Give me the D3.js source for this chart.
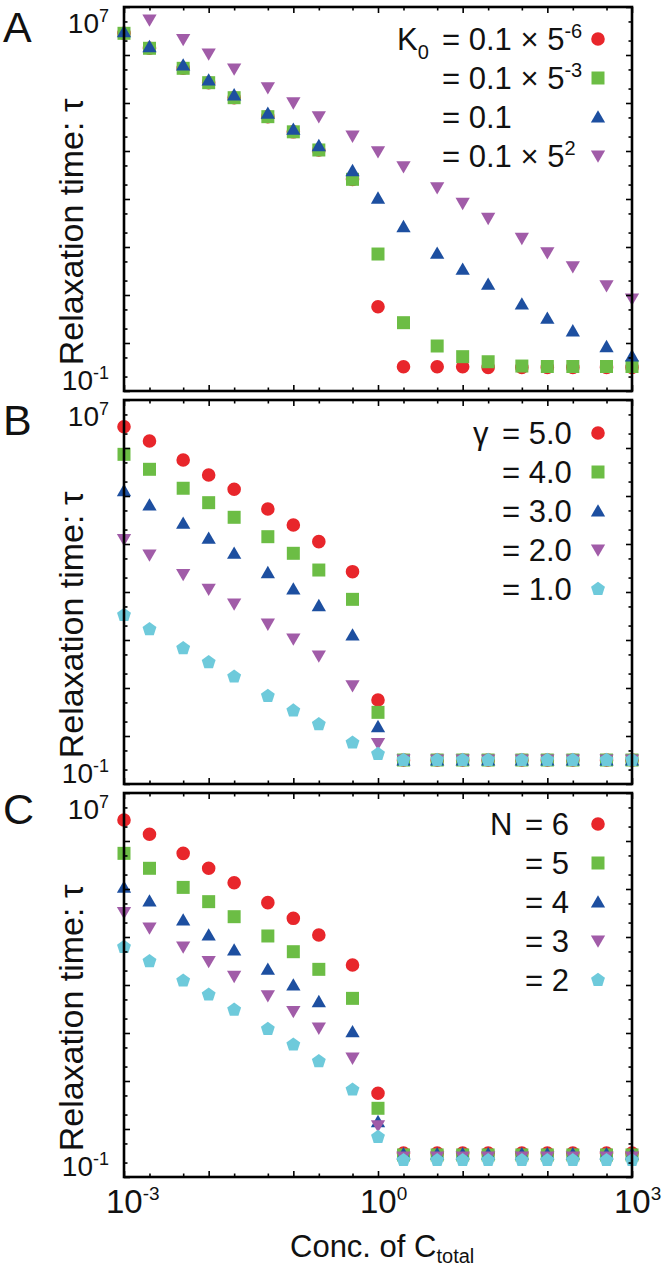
<!DOCTYPE html>
<html><head><meta charset="utf-8">
<script src="https://cdn.jsdelivr.net/npm/d3@7"></script>
<style>
body{margin:0;background:#fff}
text{font-family:"Liberation Sans",Arial,Helvetica,sans-serif;fill:#111}
</style>
</head><body>
<svg id="chart" width="663" height="1268"></svg>
<script>
// ---------------- DATA ----------------
const concentrations = [0.001,0.002,0.005,0.01,0.02,0.05,0.1,0.2,0.5,1,2,5,10,20,50,100,200,500,1000];

// Panel A: K0 series
const tauA_K0_5m6 = [2.83e6,1.38e6,5.28e5,2.65e5,1.29e5,5.19e4,2.51e4,1.05e4,2.57e3,5.70,0.32,0.32,0.32,0.31,0.31,0.31,0.31,0.31,0.31];
const tauA_K0_5m3 = [2.83e6,1.38e6,5.28e5,2.65e5,1.29e5,5.19e4,2.51e4,1.05e4,2.57e3,71.4,2.65,0.866,0.519,0.407,0.331,0.324,0.324,0.324,0.324];
const tauA_K0_1   = [3.05e6,1.49e6,6.19e5,3.01e5,1.47e5,6.10e4,2.83e4,1.29e4,3.89e3,1.04e3,265,74.0,34.3,16.7,6.49,3.27,1.78,0.838,0.537];
const tauA_K0_5p2 = [null,5.36e6,2.12e6,1.05e6,5.11e5,2.08e5,1.01e5,5.19e4,2.05e4,9.68e3,4.71e3,1.72e3,813,396,152,76.0,38.9,15.6,8.26];

// Panel B: gamma series
const tauB_g5 = [2.78e6,1.40e6,5.62e5,2.74e5,1.38e5,5.36e4,2.49e4,1.12e4,2.65e3,5.62,0.316,0.316,0.316,0.316,0.316,0.316,0.316,0.316,0.316];
const tauB_g4 = [7.38e5,3.60e5,1.45e5,7.26e4,3.60e4,1.42e4,6.40e3,2.87e3,703,3.11,0.316,0.316,0.316,0.316,0.316,0.316,0.316,0.316,0.316];
const tauB_g3 = [1.29e5,6.49e4,2.70e4,1.31e4,6.40e3,2.52e3,1.15e3,519,127,1.56,0.316,0.316,0.316,0.316,0.316,0.316,0.316,0.316,0.316];
const tauB_g2 = [1.25e4,5.90e3,2.33e3,1.15e3,562,215,105,46.5,11.2,0.703,0.316,0.316,0.316,0.316,0.316,0.316,0.316,0.316,0.316];
const tauB_g1 = [332,167,67.1,34.3,17.2,6.81,3.37,1.75,0.726,0.422,0.316,0.316,0.316,0.316,0.316,0.316,0.316,0.316,0.316];

// Panel C: N series
const tauC_N6 = [2.74e6,1.38e6,5.53e5,2.70e5,1.35e5,5.19e4,2.45e4,1.10e4,2.61e3,5.55,0.316,0.316,0.316,0.316,0.316,0.316,0.316,0.316,0.316];
const tauC_N5 = [5.53e5,2.70e5,1.08e5,5.45e4,2.65e4,1.05e4,4.94e3,2.12e3,527,2.70,0.288,0.288,0.288,0.288,0.288,0.288,0.288,0.288,0.288];
const tauC_N4 = [1.08e5,5.62e4,2.26e4,1.10e4,5.36e3,2.12e3,1.00e3,449,106,1.42,0.302,0.302,0.302,0.302,0.302,0.302,0.302,0.302,0.302];
const tauC_N3 = [3.24e4,1.54e4,6.19e3,3.11e3,1.52e3,598,282,127,30.1,1.17,0.263,0.263,0.263,0.263,0.263,0.263,0.263,0.263,0.263];
const tauC_N2 = [6.19e3,3.11e3,1.23e3,628,305,121,57.0,25.7,6.59,0.681,0.224,0.224,0.224,0.224,0.224,0.224,0.224,0.224,0.224];

const legendA = [["K","0","= 0.1 × 5","-6"],["","","= 0.1 × 5","-3"],["","","= 0.1",""],["","","= 0.1 × 5","2"]];
const legendB = [["γ","","= 5.0",""],["","","= 4.0",""],["","","= 3.0",""],["","","= 2.0",""],["","","= 1.0",""]];
const legendC = [["N","","= 6",""],["","","= 5",""],["","","= 4",""],["","","= 3",""],["","","= 2",""]];

const yTickLabels = [["10","7"],["10","-1"]];
const xTickLabels = [["10","-3"],["10","0"],["10","3"]];
const panelLetters = ["A","B","C"];
const yTitle = "Relaxation time: τ";
const xTitle = ["Conc. of C","total"];

// ---------------- LAYOUT ----------------
const colors = ["#e8262b","#6cbd45","#1d4fa0","#a15ca8","#6ecadb"];
const left = 124, right = 632, ph = 384;
const tops = [7, 400, 793];
const svg = d3.select("#chart");

function poly(pts){return {draw(ctx,size){const r=Math.sqrt(size);pts.forEach(([a,b],i)=>i?ctx.lineTo(a*r,b*r):ctx.moveTo(a*r,b*r));ctx.closePath();}};}
const triUp = poly([[0,-0.98],[1.02,0.78],[-1.02,0.78]]);
const triDown = poly([[0,0.98],[1.02,-0.78],[-1.02,-0.78]]);
const pent = poly(d3.range(5).map(k=>{const a=-Math.PI/2+k*2*Math.PI/5;return [Math.cos(a),Math.sin(a)];}));
const square = poly([[-1,-1],[1,-1],[1,1],[-1,1]]);
const shapeDefs = [
  d3.symbol().type(d3.symbolCircle).size(Math.PI*6.8*6.8),
  d3.symbol().type(square).size(6.5*6.5),
  d3.symbol().type(triUp).size(7*7),
  d3.symbol().type(triDown).size(7*7),
  d3.symbol().type(pent).size(7.3*7.3)
];

const x = d3.scaleLog().domain([1e-3,1e3]).range([left,right]);
const majorX = [1e-3,1e-2,1e-1,1,10,100,1000];
const minorX = []; majorX.slice(0,-1).forEach(d=>{minorX.push(d*2,d*5);});
const majorY = d3.range(-1,8).map(e=>Math.pow(10,e));
const minorY = []; majorY.slice(0,-1).forEach(d=>{minorY.push(d*2,d*5);});

const panels = [
  {series:[tauA_K0_5m6,tauA_K0_5m3,tauA_K0_1,tauA_K0_5p2], shapes:[0,1,2,3], legend:legendA, preX:397, eqX:442, legTop:32, letterY:42},
  {series:[tauB_g5,tauB_g4,tauB_g3,tauB_g2,tauB_g1], shapes:[0,1,2,3,4], legend:legendB, preX:473, eqX:502, legTop:33, letterY:435},
  {series:[tauC_N6,tauC_N5,tauC_N4,tauC_N3,tauC_N2], shapes:[0,1,2,3,4], legend:legendC, preX:490, eqX:525, legTop:31, letterY:824}
];

panels.forEach((p,pi)=>{
  const top = tops[pi];
  const y = d3.scaleLog().domain([1e-1,1e7]).range([top+ph, top]);
  const g = svg.append("g");

  // points
  p.series.forEach((vals,si)=>{
    const pts = concentrations.map((c,i)=>({c,v:vals[i]})).filter(d=>d.v!=null);
    g.append("g").selectAll("path").data(pts).join("path")
      .attr("d", shapeDefs[p.shapes[si]])
      .attr("transform", d=>`translate(${x(d.c)},${y(d.v)})`)
      .attr("fill", colors[si]);
  });

  // ticks
  const addAxis = (axisFn, scale, vals, size, tx, ty) => {
    const ax = g.append("g").attr("transform",`translate(${tx},${ty})`)
      .call(axisFn(scale).tickValues(vals).tickSize(size).tickFormat(""));
    ax.select(".domain").remove();
    ax.selectAll("line").attr("stroke","#000").attr("stroke-width",1.6);
  };
  addAxis(d3.axisBottom, x, majorX, -6, 0, top+ph);
  addAxis(d3.axisBottom, x, minorX, -3.5, 0, top+ph);
  addAxis(d3.axisTop, x, majorX, -6, 0, top);
  addAxis(d3.axisTop, x, minorX, -3.5, 0, top);
  addAxis(d3.axisLeft, y, majorY, -6, left, 0);
  addAxis(d3.axisLeft, y, minorY, -3.5, left, 0);
  addAxis(d3.axisRight, y, majorY, -6, right, 0);
  addAxis(d3.axisRight, y, minorY, -3.5, right, 0);

  // frame
  g.append("rect").attr("x",left).attr("y",top).attr("width",right-left).attr("height",ph)
    .attr("fill","none").attr("stroke","#000").attr("stroke-width",2.6);

  // y tick labels
  [[yTickLabels[0], top+26],[yTickLabels[1], top+ph-1]].forEach(([lab,by])=>{
    const t = g.append("text").attr("x",109).attr("y",by).attr("text-anchor","end").style("font-size","28px");
    t.append("tspan").text(lab[0]);
    t.append("tspan").attr("dy",-11).style("font-size","18px").text(lab[1]);
  });

  // y title
  g.append("text").attr("transform",`translate(83,${top+225}) rotate(-90)`)
    .attr("text-anchor","middle").style("font-size","34px").text(yTitle);

  // panel letter
  g.append("text").attr("x",3).attr("y",p.letterY).style("font-size","43px").text(panelLetters[pi]);

  // legend
  p.legend.forEach((row,ri)=>{
    const cy = top + p.legTop + ri*39;
    if(row[0]){
      const t = g.append("text").attr("x",p.preX).attr("y",cy+11).style("font-size","31px");
      t.append("tspan").text(row[0]);
      if(row[1]) t.append("tspan").attr("dy",9).style("font-size","20px").text(row[1]);
    }
    const t2 = g.append("text").attr("x",p.eqX).attr("y",cy+11).style("font-size","31px");
    t2.append("tspan").text(row[2]);
    if(row[3]) t2.append("tspan").attr("dy",-12).style("font-size","20px").text(row[3]);
    g.append("path").attr("d", shapeDefs[p.shapes[ri]])
      .attr("transform",`translate(598,${cy})`).attr("fill",colors[ri]);
  });
});

// x tick labels (bottom panel only)
[1e-3,1,1e3].forEach((v,i)=>{
  const t = svg.append("text").attr("x",x(v)-18).attr("y",1213).style("font-size","33px");
  t.append("tspan").text(xTickLabels[i][0]);
  t.append("tspan").attr("dy",-13).style("font-size","19px").text(xTickLabels[i][1]);
});

// x title
const xt = svg.append("text").attr("x",290).attr("y",1257).style("font-size","31px");
xt.append("tspan").text(xTitle[0]);
xt.append("tspan").attr("dy",6).style("font-size","20px").text(xTitle[1]);
</script>
</body></html>
